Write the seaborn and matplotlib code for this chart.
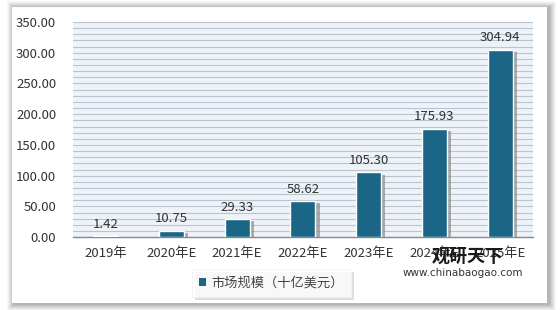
import matplotlib
matplotlib.use("Agg")
import matplotlib.pyplot as plt
import matplotlib.patheffects as pe
from matplotlib.patches import Rectangle
import seaborn as sns
import pandas as pd
import numpy as np

categories = ["2019年", "2020年E", "2021年E", "2022年E", "2023年E", "2024年E", "2025年E"]
values = [1.42, 10.75, 29.33, 58.62, 105.30, 175.93, 304.94]
series_name = "市场规模（十亿美元）"
yticks = [0, 50, 100, 150, 200, 250, 300, 350]

sns.set_theme(style="white")
plt.rcParams['font.family'] = ['Noto Sans CJK SC', 'DejaVu Sans']

df = pd.DataFrame({"year": categories, "value": values, "series": series_name})

W, H = 560, 310
fig = plt.figure(figsize=(5.6, 3.1), dpi=100)

# soft shadow around the white card (layered rectangles)
x0, y0, x1, y1 = 12, 7, 547, 303  # pixel box of card (top-left origin)
for k, a in zip(range(7, 0, -1), [0.05, 0.07, 0.09, 0.11, 0.13, 0.15, 0.17]):
    fig.patches.append(Rectangle(((x0 - k + 2) / W, 1 - (y1 + k + 1) / H),
                                 (x1 - x0 + 2 * k) / W, (y1 - y0 + 2 * k) / H,
                                 transform=fig.transFigure, facecolor="#808080",
                                 edgecolor="none", alpha=a, zorder=-3))
fig.patches.append(Rectangle((x0 / W, 1 - y1 / H), (x1 - x0) / W, (y1 - y0) / H,
                             transform=fig.transFigure, facecolor="white",
                             edgecolor="none", zorder=-2))

ax = fig.add_axes([0.130, 0.235, 0.822, 0.694])
ax.set_facecolor("#edf3f8")
sns.barplot(data=df, x="year", y="value", hue="series", palette=["#1b6586"],
            saturation=1, width=0.38, ax=ax, edgecolor="white", linewidth=1.0, legend=True)

for p in ax.patches:
    p.set_path_effects([pe.SimplePatchShadow(offset=(3, -1.5), shadow_rgbFace="#8a8a8a", alpha=0.7),
                        pe.Normal()])
    p.set_zorder(3)

for i, v in enumerate(values):
    ax.annotate(f"{v:.2f}", xy=(i, v), xytext=(0, 4), textcoords="offset points",
                ha="center", va="bottom", fontsize=9.5, color="#333333", zorder=5)

ax.set_ylim(0, 350)
ax.set_xlim(-0.5, len(categories) - 0.5)
ax.set_yticks(yticks)
ax.set_yticklabels([f"{t:.2f}" for t in yticks], fontsize=9.5, color="#333333")
ax.set_yticks(np.arange(0, 351, 10), minor=True)
ax.yaxis.grid(True, which="both", color="#bac4cc", lw=0.8)
ax.set_axisbelow(True)
ax.tick_params(axis="x", labelsize=9.5, colors="#333333", pad=7, length=0)
ax.tick_params(axis="y", length=0, which="both", pad=12)
ax.set_xlabel("")
ax.set_ylabel("")
for s in ["top", "right", "left"]:
    ax.spines[s].set_visible(False)
ax.spines["bottom"].set_color("#888888")
ax.spines["bottom"].set_linewidth(1.0)

leg = ax.legend(loc="center", bbox_to_anchor=(0.485, 0.087), bbox_transform=fig.transFigure,
                frameon=True, fontsize=9.5, handlelength=0.55, handleheight=0.55,
                handletextpad=0.4, borderpad=0.55, borderaxespad=0, fancybox=False)
leg.get_frame().set_edgecolor("#f0f0f0")
leg.get_frame().set_linewidth(0.6)
leg.get_frame().set_path_effects([pe.SimplePatchShadow(offset=(2, -2), shadow_rgbFace="#c8c8c8", alpha=0.6), pe.Normal()])
for h in leg.legend_handles:
    h.set_path_effects([])
    h.set_edgecolor("none")
for t in leg.get_texts():
    t.set_color("#444444")

# watermark
fig.text(0.835, 0.172, "观研天下", fontsize=13, fontweight="bold", color="#1a1a1a",
         ha="center", va="center", zorder=10)
fig.text(0.826, 0.118, "www.chinabaogao.com", fontsize=7.5, color="#333333",
         ha="center", va="center", zorder=10, family=["DejaVu Sans"])

fig.savefig("out.png", dpi=100)
